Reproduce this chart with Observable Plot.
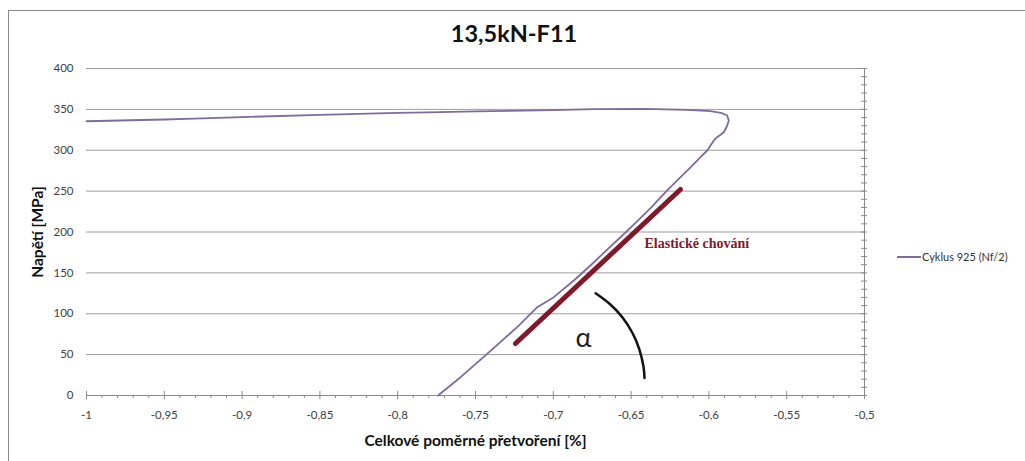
<!DOCTYPE html>
<html>
<head>
<meta charset="utf-8">
<script src="https://cdn.jsdelivr.net/npm/d3@7"></script>
<script src="https://cdn.jsdelivr.net/npm/@observablehq/plot@0.6"></script>
<style>
  body { margin: 0; background: #fff; }
  #wrap { position: relative; width: 1025px; height: 461px; overflow: hidden; font-family: Lato, "Open Sans", sans-serif; }
  #frame { position: absolute; left: 8px; top: 10px; width: 1040px; height: 480px; border-left: 1.5px solid #8a8a8a; border-top: 1.5px solid #8a8a8a; box-sizing: border-box; }
  #chart { position: absolute; left: 0; top: 0; }
  #title { position: absolute; left: 0; width: 1028px; top: 19px; text-align: center; font-weight: bold; font-size: 23.5px; color: #111; }
  #legend { position: absolute; left: 897px; top: 250px; font-size: 11px; color: #333; display: flex; align-items: center; white-space: nowrap; }
  #legend .swatch { display: inline-block; width: 24px; height: 2px; background: #7f6b9c; margin-right: 1px; }
</style>
</head>
<body>
<div id="wrap">
  <div id="frame"></div>
  <div id="chart"></div>
  <div id="title">13,5kN-F11</div>
  <div id="legend"><span class="swatch"></span><span>Cyklus 925 (Nf/2)</span></div>
</div>
<script>
// Hysteresis branch of cycle 925 (Nf/2): total strain [%] vs. stress [MPa]
const strain = [
  -0.7740, -0.7725, -0.7596, -0.7425, -0.7232, -0.7103, -0.6997, -0.6868,
  -0.6761, -0.6671, -0.6568, -0.6478, -0.6369, -0.6268, -0.6161, -0.6118,
  -0.6054, -0.6011, -0.5968, -0.5947, -0.5904, -0.5883, -0.5872, -0.5883,
  -0.5915, -0.5990, -0.6140, -0.6418, -0.6740, -0.7000, -0.7500, -0.7810,
  -0.8000, -0.8500, -0.9000, -0.9310, -0.9500, -1.0000
];
const stress = [
  0, 2.4, 22.4, 51.0, 83.6, 108.0, 120.3, 140.7,
  159.0, 175.3, 193.6, 210.0, 230.3, 250.8, 271.2, 279.0,
  291.5, 299.7, 312.0, 316.0, 322.0, 330.0, 336.4, 342.5,
  345.3, 347.8, 349.4, 350.6, 350.2, 349.0, 347.5, 346.3,
  345.6, 343.2, 340.6, 338.6, 337.6, 335.5
];

// Elastic slope guide line
const elasticStrain = [-0.7243, -0.6183];
const elasticStress = [63.6, 252.0];

// Angle arc marking alpha
const arcStrain = [-0.6728, -0.6635, -0.6555, -0.6492, -0.6447, -0.6420, -0.6414];
const arcStress = [125.0, 111.7, 95.4, 76.8, 56.4, 34.9, 21.5];

// Annotations
const elasticLabel = ["Elastické chování"];
const elasticLabelPos = [-0.6414, 186];
const alphaLabel = ["α"];
const alphaPos = [-0.6806, 69.7];

// Axes
const xTicks = [-1, -0.95, -0.9, -0.85, -0.8, -0.75, -0.7, -0.65, -0.6, -0.55, -0.5];
const yTicks = [0, 50, 100, 150, 200, 250, 300, 350, 400];
const xLabel = "Celkové poměrné přetvoření [%]";
const yLabel = "Napětí [MPa]";

const xMinor = d3.range(0, 51).map(k => Math.round((-1 + k * 0.01) * 1000) / 1000)
  .filter(v => !xTicks.some(t => Math.abs(t - v) < 1e-9));
const yMinor = d3.range(0, 41).map(k => k * 10);

const idx = d3.range(strain.length);
const axisGray = "#8a8a8a";

const chart = Plot.plot({
  width: 1025,
  height: 461,
  marginLeft: 86,
  marginRight: 161,
  marginTop: 68,
  marginBottom: 66,
  style: { fontFamily: "Lato, 'Open Sans', sans-serif", fontSize: "11.5px", color: "#404040", background: "transparent" },
  x: { domain: [-1, -0.5] },
  y: { domain: [0, 400] },
  marks: [
    Plot.gridY(yTicks.filter(v => v > 0), { stroke: "#9c9c9c", strokeOpacity: 1 }),
    Plot.ruleY([0], { stroke: axisGray }),
    Plot.ruleX([-0.5], { stroke: axisGray }),
    Plot.ruleX(xTicks, { x: d => d, y1: () => 0, y2: () => 0, insetTop: 4, insetBottom: 4, stroke: axisGray }),
    Plot.ruleX(xMinor, { x: d => d, y1: () => 0, y2: () => 0, insetTop: 3, insetBottom: 0, stroke: axisGray }),
    Plot.ruleY(yMinor, { y: d => d, x1: () => -0.5, x2: () => -0.5, insetLeft: -3, insetRight: -3, stroke: axisGray }),
    Plot.axisX({ ticks: xTicks, tickSize: 0, tickPadding: 15, tickFormat: d => String(d).replace(".", ","), label: null }),
    Plot.axisY({ ticks: yTicks, tickSize: 0, tickPadding: 13, tickFormat: d => String(d), label: null }),
    Plot.text([xLabel], { frameAnchor: "bottom", dy: 50, text: d => d, textAnchor: "middle", fontWeight: "bold", fontSize: 15.5, fill: "#111" }),
    Plot.text([yLabel], { frameAnchor: "left", dx: -48, rotate: -90, text: d => d, textAnchor: "middle", lineAnchor: "middle", fontWeight: "bold", fontSize: 15.5, fill: "#111" }),
    Plot.line(idx, { x: i => strain[i], y: i => stress[i], stroke: "#7f6b9c", strokeWidth: 1.8 }),
    Plot.line([0, 1], { x: i => elasticStrain[i], y: i => elasticStress[i], stroke: "#801a2a", strokeWidth: 5, strokeLinecap: "round" }),
    Plot.line(d3.range(arcStrain.length), { x: i => arcStrain[i], y: i => arcStress[i], curve: "natural", stroke: "#111", strokeWidth: 2.5 }),
    Plot.text(elasticLabel, { x: () => elasticLabelPos[0], y: () => elasticLabelPos[1], text: d => d, textAnchor: "start", fontFamily: "'Liberation Serif', serif", fontWeight: "bold", fontSize: 14, fill: "#801a2a" }),
    Plot.text(alphaLabel, { x: () => alphaPos[0], y: () => alphaPos[1], text: d => d, fontSize: 27, fill: "#222" })
  ]
});
document.getElementById("chart").appendChild(chart);
</script>
</body>
</html>
